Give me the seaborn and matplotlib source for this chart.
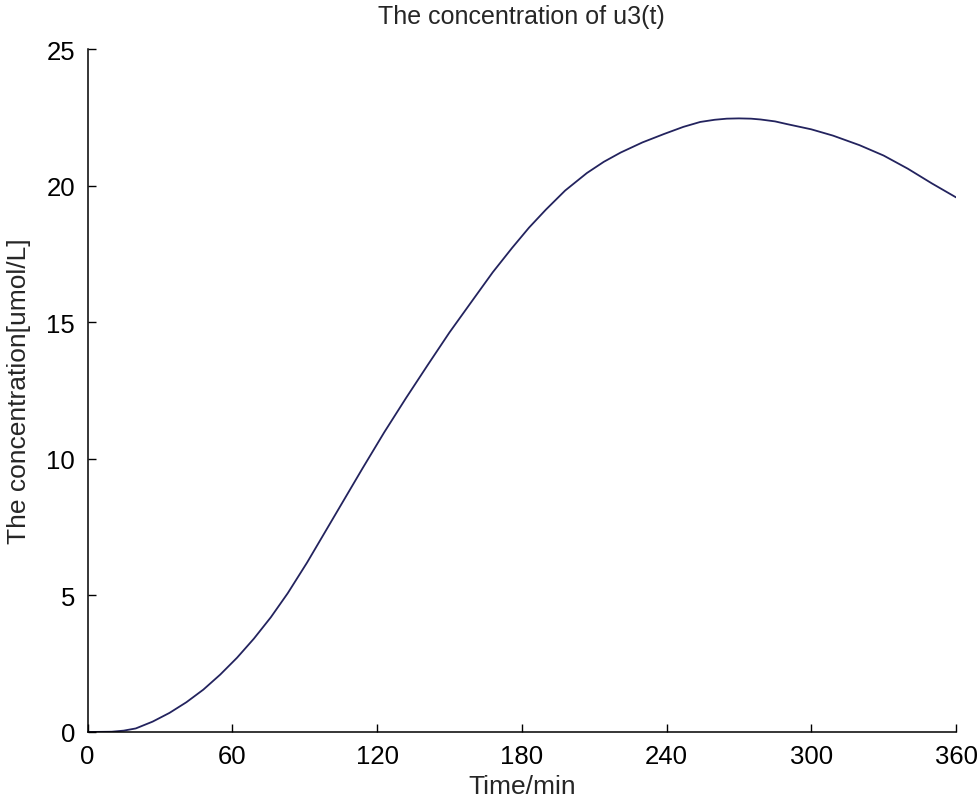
import matplotlib
matplotlib.use("Agg")
import matplotlib.pyplot as plt
import seaborn as sns
import pandas as pd

# Data
time_min = [0, 10, 15, 20, 27, 34, 41, 48, 55, 62, 69, 76, 83, 91, 98, 106, 114, 123,
            132, 141, 150, 160, 168, 176, 183, 190, 198, 207, 214, 221, 230, 239,
            247, 254, 260, 265, 270, 275, 279, 285, 290, 300, 309, 320, 330, 340, 350, 360]
conc = [0.0, 0.01, 0.05, 0.13, 0.38, 0.70, 1.09, 1.55, 2.10, 2.72, 3.42, 4.20, 5.08, 6.20,
        7.25, 8.45, 9.65, 10.97, 12.22, 13.43, 14.62, 15.85, 16.83, 17.72, 18.46, 19.12,
        19.82, 20.46, 20.87, 21.21, 21.58, 21.89, 22.15, 22.33, 22.41, 22.45, 22.46, 22.45,
        22.42, 22.35, 22.25, 22.06, 21.83, 21.48, 21.10, 20.62, 20.08, 19.57]
x_ticks = [0, 60, 120, 180, 240, 300, 360]
y_ticks = [0, 5, 10, 15, 20, 25]

df = pd.DataFrame({"Time/min": time_min, "conc": conc})

sns.set_style("ticks")
plt.rcParams['font.family'] = ['Liberation Sans', 'DejaVu Sans']

fig = plt.figure(figsize=(9.8, 8.03), dpi=100)
ax = fig.add_axes([87.5 / 980, 1 - 733 / 803, (956 - 87.5) / 980, (733 - 50) / 803])

sns.lineplot(data=df, x="Time/min", y="conc", ax=ax, color="#23235e", linewidth=1.3)

ax.set_xlim(0, 360)
ax.set_ylim(0, 25)
ax.set_xticks(x_ticks)
ax.set_yticks(y_ticks)
ax.tick_params(direction="in", length=6, width=1.0, colors="black", labelsize=18.5, pad=9)
for s in ["top", "right"]:
    ax.spines[s].set_visible(False)
for s in ["left", "bottom"]:
    ax.spines[s].set_color("black")
    ax.spines[s].set_linewidth(1.1)

ax.set_title("The concentration of u3(t)", fontsize=18, pad=19)
ax.set_xlabel("Time/min", fontsize=19, labelpad=4)
ax.set_ylabel("The concentration[umol/L]", fontsize=19, labelpad=11)

fig.savefig("out.png", dpi=100, facecolor="white")
